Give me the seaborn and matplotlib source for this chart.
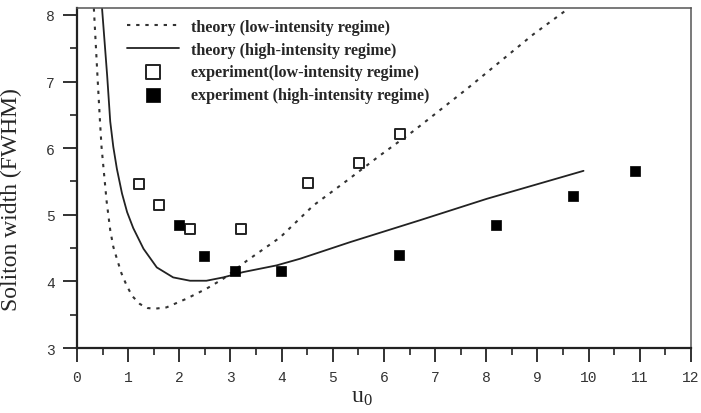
import matplotlib
matplotlib.use("Agg")
import matplotlib.pyplot as plt
import seaborn as sns
import pandas as pd
from matplotlib.ticker import MultipleLocator

# ---- data ----
theory_low_x = [0.33, 0.40, 0.45, 0.48, 0.52, 0.58, 0.65, 0.71, 0.78, 0.87, 0.97, 1.08,
                1.23, 1.38, 1.52, 1.75, 2.14, 2.53, 2.86, 3.32, 3.97, 4.62, 5.27,
                5.92, 6.58, 7.62, 8.27, 8.92, 9.61]
theory_low_y = [8.10, 7.09, 6.40, 6.02, 5.69, 5.20, 4.77, 4.52, 4.34, 4.12, 3.94, 3.78,
                3.66, 3.60, 3.59, 3.61, 3.74, 3.89, 4.04, 4.31, 4.66, 5.14, 5.51,
                5.89, 6.26, 6.89, 7.30, 7.71, 8.10]

theory_high_x = [0.49, 0.59, 0.65, 0.71, 0.78, 0.88, 0.98, 1.10, 1.30, 1.56, 1.88,
                 2.21, 2.53, 2.86, 3.25, 3.90, 4.36, 5.34, 6.71, 8.01, 9.90]
theory_high_y = [8.10, 7.09, 6.40, 6.02, 5.69, 5.32, 5.04, 4.80, 4.49, 4.21, 4.06,
                 4.01, 4.01, 4.06, 4.14, 4.24, 4.34, 4.59, 4.92, 5.24, 5.66]

exp_low_x = [1.21, 1.61, 2.21, 3.21, 4.51, 5.51, 6.32]
exp_low_y = [5.46, 5.14, 4.79, 4.79, 5.47, 5.78, 6.21]

exp_high_x = [1.99, 2.48, 3.09, 3.99, 6.30, 8.18, 9.69, 10.90]
exp_high_y = [4.85, 4.38, 4.15, 4.15, 4.39, 4.85, 5.28, 5.66]

labels = ["theory (low-intensity regime)",
          "theory (high-intensity regime)",
          "experiment(low-intensity regime)",
          "experiment (high-intensity regime)"]
x_ticks = list(range(0, 13))
y_ticks = [3, 4, 5, 6, 7, 8]

sns.set_style("white")
plt.rcParams["mathtext.fontset"] = "custom"
plt.rcParams["mathtext.rm"] = "Liberation Serif"
plt.rcParams["mathtext.it"] = "Liberation Serif"

fig = plt.figure(figsize=(7.01, 4.14), dpi=100)
ax = fig.add_axes([0.1098, 0.157, 0.9857 - 0.1098, 0.9775 - 0.157])

df_low = pd.DataFrame({"x": theory_low_x, "y": theory_low_y})
df_high = pd.DataFrame({"x": theory_high_x, "y": theory_high_y})
sns.lineplot(data=df_low, x="x", y="y", ax=ax, color="#333333", lw=1.5,
             sort=False, estimator=None, label=labels[0])
ax.lines[-1].set_dashes([1.6, 2.8])
sns.lineplot(data=df_high, x="x", y="y", ax=ax, color="#222222", lw=1.3,
             sort=False, estimator=None, label=labels[1])

sns.scatterplot(x=exp_low_x, y=exp_low_y, ax=ax, marker="s", s=52,
                facecolor="white", edgecolor="#222222", linewidth=1.4,
                label=labels[2], zorder=5)
sns.scatterplot(x=exp_high_x, y=exp_high_y, ax=ax, marker="s", s=52,
                color="black", edgecolor="black", linewidth=0.5,
                label=labels[3], zorder=5)

ax.set_xlim(0, 12)
ax.set_ylim(3, 8.1)
ax.set_xticks(x_ticks)
ax.set_yticks(y_ticks)
ax.xaxis.set_minor_locator(MultipleLocator(0.5))
ax.yaxis.set_minor_locator(MultipleLocator(0.5))
ax.tick_params(which="major", direction="out", length=10, width=1.3,
               color="#222222", bottom=True, left=True)
ax.tick_params(which="minor", direction="out", length=5, width=1.2,
               color="#222222", bottom=True, left=True)
ax.tick_params(axis="x", which="major", pad=6)
ax.tick_params(axis="y", which="major", pad=6)
for lab in ax.get_xticklabels() + ax.get_yticklabels():
    lab.set_fontfamily("Liberation Mono")
    lab.set_fontsize(10.5)
    lab.set_color("#333333")

for side in ["left", "bottom"]:
    ax.spines[side].set_linewidth(1.6)
    ax.spines[side].set_color("#222222")
for side in ["top", "right"]:
    ax.spines[side].set_linewidth(1.1)
    ax.spines[side].set_color("#555555")

ax.set_xlabel(r"$\mathregular{u_0}$", fontsize=17, family="Liberation Serif")
ax.xaxis.set_label_coords((362 - 77) / 614, -0.112)
ax.set_ylabel("Soliton width (FWHM)", fontsize=17, family="Liberation Serif")
ax.yaxis.set_label_coords(-0.09, 0.44)

handles, labs = ax.get_legend_handles_labels()
order = [labs.index(l) for l in labels]
leg = ax.legend([handles[i] for i in order], [labs[i] for i in order],
                loc="upper left", bbox_to_anchor=(0.058, 1.012), frameon=False,
                handlelength=3.2, handletextpad=0.75, labelspacing=0.42,
                markerscale=1.35,
                prop={"family": "Liberation Serif", "weight": "bold", "size": 11.6})

fig.savefig("out.png", dpi=100)
